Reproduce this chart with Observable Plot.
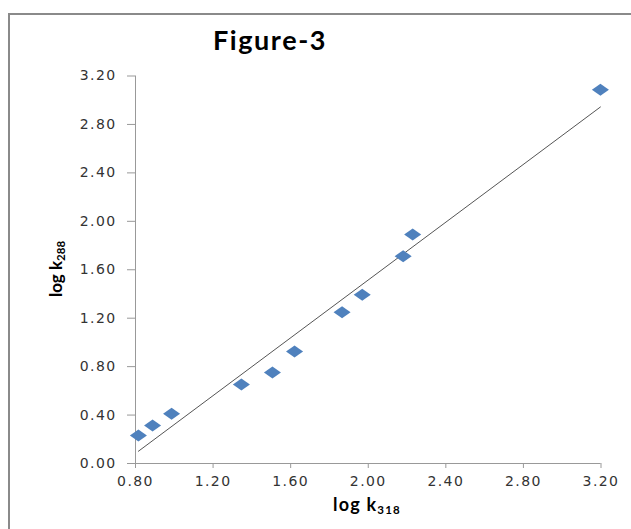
<!DOCTYPE html>
<html>
<head>
<meta charset="utf-8">
<script src="https://cdn.jsdelivr.net/npm/d3@7"></script>
<script src="https://cdn.jsdelivr.net/npm/@observablehq/plot@0.6"></script>
<style>
  html, body { margin: 0; padding: 0; background: #fff; }
  #wrap { position: relative; width: 631px; height: 529px; overflow: hidden; }
  #frame { position: absolute; left: 8px; top: 13px; width: 700px; height: 600px; border: 2px solid #8a8a8a; box-sizing: border-box; }
  #title { position: absolute; left: 170px; width: 200px; top: 23px; text-align: center; font-family: Lato, "Open Sans", sans-serif; font-weight: bold; font-size: 27px; letter-spacing: 1.6px; color: #000; }
  #xlab { position: absolute; left: 267px; width: 200px; top: 493px; text-align: center; font-family: Lato, "Open Sans", sans-serif; font-weight: bold; font-size: 18px; color: #000; letter-spacing: 1.2px; }
  #ylab { position: absolute; left: -44px; width: 200px; top: 258px; text-align: center; font-family: Lato, "Open Sans", sans-serif; font-weight: bold; font-size: 17px; color: #000; transform: rotate(-90deg); }
  sub { font-size: 11.5px; vertical-align: -3px; }
  #chart { position: absolute; left: 0; top: 0; }
</style>
</head>
<body>
<div id="wrap">
  <div id="frame"></div>
  <div id="chart"></div>
  <div id="title">Figure-3</div>
  <div id="xlab">log k<sub>318</sub></div>
  <div id="ylab">log k<sub>288</sub></div>
</div>
<script>
const logK318 = [0.815, 0.888, 0.986, 1.346, 1.506, 1.62, 1.865, 1.969, 2.18, 2.229, 3.197];
const logK288 = [0.231, 0.314, 0.41, 0.652, 0.751, 0.925, 1.249, 1.393, 1.712, 1.891, 3.086];
const tickValues = [0, 0.4, 0.8, 1.2, 1.6, 2.0, 2.4, 2.8, 3.2];
const xTicks = [0.8, 1.2, 1.6, 2.0, 2.4, 2.8, 3.2];

const data = logK318.map((x, i) => ({x, y: logK288[i]}));

const flatDiamond = {
  draw(ctx, size) {
    const r = Math.sqrt(size / Math.PI);
    const hw = r * 1.42, hh = r;
    ctx.moveTo(hw, 0);
    ctx.lineTo(0, hh);
    ctx.lineTo(-hw, 0);
    ctx.lineTo(0, -hh);
    ctx.closePath();
  }
};

const fmt = d3.format(".2f");

const chart = Plot.plot({
  width: 631,
  height: 529,
  marginLeft: 135,
  marginRight: 30.5,
  marginTop: 75.5,
  marginBottom: 66,
  style: {background: "transparent", fontFamily: "DejaVu Sans, Verdana, sans-serif", fontSize: "14px", color: "#333"},
  x: {domain: [0.8, 3.2]},
  y: {domain: [0, 3.2]},
  marks: [
    Plot.axisY({ticks: tickValues, tickFormat: fmt, tickSize: 8, tickPadding: 11, label: null, stroke: "#999", fill: "#333", fontSize: 14}),
    Plot.axisX({ticks: xTicks, tickFormat: fmt, tickSize: 5, tickPadding: 8, label: null, stroke: "#999", fill: "#333", fontSize: 14}),
    Plot.ruleX([0.8], {stroke: "#999"}),
    Plot.ruleY([0], {stroke: "#999"}),
    Plot.linearRegressionY(data, {x: "x", y: "y", ci: 0, stroke: "#555", strokeWidth: 1}),
    Plot.dot(data, {x: "x", y: "y", symbol: flatDiamond, r: 6, fill: "#4F81BD", stroke: "none"})
  ]
});
chart.querySelectorAll("text").forEach(t => t.style.letterSpacing = "1.4px");
document.getElementById("chart").appendChild(chart);
</script>
</body>
</html>
